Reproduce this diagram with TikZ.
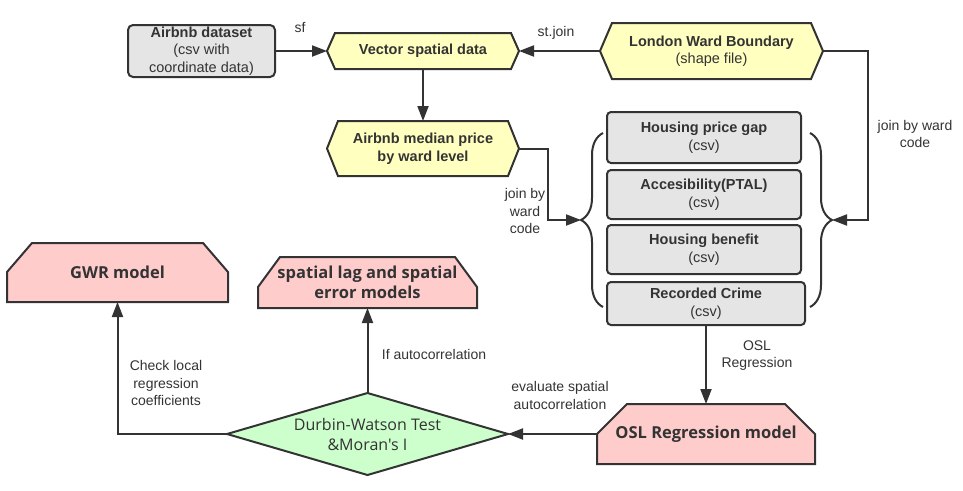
\documentclass[tikz,border=0pt]{standalone}
\usepackage{fontspec}
\setmainfont{Liberation Sans}
\newfontfamily\osans[Ligatures=TeXOff]{Open Sans}
\usetikzlibrary{arrows.meta,calc,decorations.pathreplacing}
\definecolor{ink}{HTML}{333333}
\definecolor{grayfill}{HTML}{E5E5E5}
\definecolor{yel}{HTML}{FFFFC0}
\definecolor{pinkfill}{HTML}{FFCCCC}
\definecolor{grn}{HTML}{CCFFCC}
\pgfdeclarelayer{bg}
\pgfsetlayers{bg,main}
\tikzset{
  base/.style={font=\fontsize{14.5}{17.5}\selectfont, text=ink, align=center, inner sep=0pt, outer sep=0pt},
  databox/.style={base, draw=ink, line width=2pt, fill=grayfill, rounded corners=4pt},
  shapeline/.style={draw=ink, line width=2pt},
  conn/.style={draw=ink, line width=2pt, -{Triangle[length=15pt,width=11pt]}},
  plainline/.style={draw=ink, line width=2pt},
  lbl/.style={font=\fontsize{14}{17.5}\selectfont, text=ink, align=center},
  modelfont/.style={font=\osans\bfseries\fontsize{16.5}{20}\selectfont},
}
\begin{document}
\begin{tikzpicture}[x=1pt,y=-1pt]
\useasboundingbox (0,0) rectangle (963,490);

% ---- nodes ----
\node[databox, rounded corners=5pt, minimum width=147pt, minimum height=52pt] (ads) at (201.5,51) {\textbf{Airbnb dataset}\\(csv with\\coordinate data)};
\node[base, minimum width=192pt, minimum height=36pt] (vsd) at (423,51) {\textbf{Vector spatial data}};
\node[base, minimum width=223pt, minimum height=56pt] (lwb) at (711.5,51) {\textbf{London Ward Boundary}\\(shape file)};
\node[base, minimum width=192pt, minimum height=55pt] (amp) at (423,148.5) {\textbf{Airbnb median price}\\\textbf{by ward level}};

\node[databox, minimum width=194pt, minimum height=51pt] (hpg) at (704,137.5) {\textbf{Housing price gap}\\(csv)};
\node[databox, minimum width=194pt, minimum height=49pt] (acc) at (704,194.5) {\textbf{Accesibility(PTAL)}\\(csv)};
\node[databox, minimum width=194pt, minimum height=49pt] (hb) at (704,249.5) {\textbf{Housing benefit}\\(csv)};
\node[databox, minimum width=198pt, minimum height=43pt] (rc) at (706,303.5) {\textbf{Recorded Crime}\\(csv)};

\node[base, modelfont, minimum width=218pt, minimum height=60pt] (osl) at (706,434) {OSL Regression model};
\node[base, modelfont, minimum width=219pt, minimum height=51pt] (slm) at (367.5,282.5) {spatial lag and spatial\\error models};
\node[base, modelfont, minimum width=221pt, minimum height=59pt] (gwr) at (117.5,272.5) {GWR model};
\node[base, font=\osans\fontsize{16}{20}\selectfont, minimum width=281pt, minimum height=82pt] (dw) at (367.5,434) {Durbin-Watson Test\\\&Moran's I};

\coordinate (lbt) at (581,220);
\coordinate (rbt) at (832,220);

% ---- shape outlines ----
\begin{pgfonlayer}{bg}
\filldraw[shapeline, fill=yel] (vsd.west) -- ($(vsd.north west)+(8,0)$) -- ($(vsd.north east)+(-8,0)$) -- (vsd.east) -- ($(vsd.south east)+(-8,0)$) -- ($(vsd.south west)+(8,0)$) -- cycle;
\filldraw[shapeline, fill=yel] (lwb.west) -- ($(lwb.north west)+(12,0)$) -- ($(lwb.north east)+(-12,0)$) -- (lwb.east) -- ($(lwb.south east)+(-12,0)$) -- ($(lwb.south west)+(12,0)$) -- cycle;
\filldraw[shapeline, fill=yel] (amp.west) -- ($(amp.north west)+(11,0)$) -- ($(amp.north east)+(-11,0)$) -- (amp.east) -- ($(amp.south east)+(-11,0)$) -- ($(amp.south west)+(11,0)$) -- cycle;

\filldraw[shapeline, fill=pinkfill] (osl.south west) -- ($(osl.north west)+(0,30)$) -- ($(osl.north west)+(30,0)$) -- ($(osl.north east)+(-30,0)$) -- ($(osl.north east)+(0,30)$) -- (osl.south east) -- cycle;
\filldraw[shapeline, fill=pinkfill] (slm.south west) -- ($(slm.north west)+(0,30)$) -- ($(slm.north west)+(22,0)$) -- ($(slm.north east)+(-22,0)$) -- ($(slm.north east)+(0,30)$) -- (slm.south east) -- cycle;
\filldraw[shapeline, fill=pinkfill] (gwr.south west) -- ($(gwr.north west)+(0,29)$) -- ($(gwr.north west)+(25,0)$) -- ($(gwr.north east)+(-25,0)$) -- ($(gwr.north east)+(0,29)$) -- (gwr.south east) -- cycle;

\filldraw[shapeline, fill=grn] (dw.west) -- (dw.north) -- (dw.east) -- (dw.south) -- cycle;
\end{pgfonlayer}

% ---- braces ----
\draw[plainline, decorate, decoration={brace, amplitude=22pt}] (603,307) -- (603,133);
\draw[plainline, decorate, decoration={brace, amplitude=22pt}] (810,133) -- (810,307);

% ---- connectors ----
\draw[conn] (ads.east) -- (vsd.west);
\draw[conn] (lwb.west) -- (vsd.east);
\draw[conn] (vsd.south) -- (amp.north);
\draw[conn] (amp.east) -- ++(29,0) |- (lbt);
\draw[conn] (lwb.east) -- ++(45,0) |- (rbt);
\draw[conn] (rc.south) -- (osl.north);
\draw[conn] (osl.west) -- (dw.east);
\draw[conn] (dw.north) -- (slm.south);
\draw[conn] (dw.west) -| (gwr.south);

% ---- labels ----
\node[lbl] (lsf) at (300,28) {sf};
\node[lbl] (lst) at (556,33) {st.join};
\node[lbl] (lj1) at (525,211) {join by\\ward\\code};
\node[lbl] (lj2) at (915,134) {join by ward\\code};
\node[lbl] (losl) at (757,355.5) {OSL\\Regression};
\node[lbl] (lev) at (560,395.5) {evaluate spatial\\autocorrelation};
\node[lbl] (lif) at (434,354) {If autocorrelation};
\node[lbl] (lck) at (166,383) {Check local\\regression\\coefficients};
\end{tikzpicture}
\end{document}
